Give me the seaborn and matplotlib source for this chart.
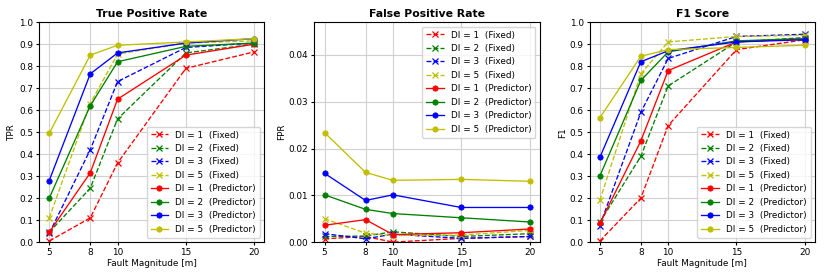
import numpy as np
import matplotlib
matplotlib.use("Agg")
import matplotlib.pyplot as plt
import seaborn as sns

# Data
magnitudes = [5, 8, 10, 15, 20]
dis = [1, 2, 3, 5]

tpr_fixed = {
    1: [0.005, 0.11, 0.36, 0.79, 0.865],
    2: [0.045, 0.245, 0.56, 0.86, 0.90],
    3: [0.04, 0.42, 0.73, 0.885, 0.905],
    5: [0.11, 0.63, 0.855, 0.905, 0.915],
}
tpr_pred = {
    1: [0.045, 0.315, 0.65, 0.85, 0.90],
    2: [0.20, 0.62, 0.82, 0.89, 0.905],
    3: [0.28, 0.765, 0.86, 0.905, 0.925],
    5: [0.495, 0.85, 0.895, 0.91, 0.925],
}
fpr_fixed = {
    1: [0.0007, 0.0012, 0.0000, 0.0008, 0.0012],
    2: [0.0012, 0.0013, 0.0022, 0.0012, 0.0018],
    3: [0.0018, 0.0007, 0.0017, 0.0008, 0.0012],
    5: [0.0050, 0.0019, 0.0014, 0.0015, 0.0025],
}
fpr_pred = {
    1: [0.0036, 0.0048, 0.0016, 0.0020, 0.0028],
    2: [0.0101, 0.0070, 0.0061, 0.0052, 0.0043],
    3: [0.0147, 0.0089, 0.0101, 0.0074, 0.0074],
    5: [0.0234, 0.0149, 0.0132, 0.0134, 0.0130],
}
f1_fixed = {
    1: [0.005, 0.20, 0.53, 0.875, 0.92],
    2: [0.09, 0.39, 0.71, 0.91, 0.93],
    3: [0.075, 0.59, 0.835, 0.935, 0.945],
    5: [0.19, 0.765, 0.91, 0.935, 0.94],
}
f1_pred = {
    1: [0.085, 0.46, 0.78, 0.91, 0.925],
    2: [0.30, 0.735, 0.865, 0.915, 0.925],
    3: [0.385, 0.82, 0.87, 0.91, 0.92],
    5: [0.565, 0.845, 0.875, 0.885, 0.895],
}

colors = {1: 'r', 2: 'g', 3: 'b', 5: 'y'}

panels = [
    ("True Positive Rate", "TPR", tpr_fixed, tpr_pred, (0, 1.0), "lower right"),
    ("False Positive Rate", "FPR", fpr_fixed, fpr_pred, (0, 0.047), "upper right"),
    ("F1 Score", "F1", f1_fixed, f1_pred, (0, 1.0), "lower right"),
]

fs = 6.4

fig, axes = plt.subplots(1, 3, figsize=(8.3, 2.77), dpi=100)
fig.subplots_adjust(left=0.047, right=0.982, bottom=0.126, top=0.92, wspace=0.221)

for ax, (title, ylabel, fixed, pred, ylim, loc) in zip(axes, panels):
    for di in dis:
        sns.lineplot(x=magnitudes, y=fixed[di], ax=ax, color=colors[di], marker='x',
                     linestyle='--', linewidth=0.95, markersize=3.8,
                     markeredgecolor=colors[di], markeredgewidth=0.9,
                     label=f"DI = {di}  (Fixed)")
    for di in dis:
        sns.lineplot(x=magnitudes, y=pred[di], ax=ax, color=colors[di], marker='o',
                     linestyle='-', linewidth=0.95, markersize=3.8,
                     markeredgecolor=colors[di], markeredgewidth=0.6,
                     label=f"DI = {di}  (Predictor)")
    ax.set_title(title, fontsize=7.8, fontweight='bold', pad=3.5)
    ax.set_xlabel("Fault Magnitude [m]", fontsize=fs, labelpad=1.5)
    ax.set_ylabel(ylabel, fontsize=fs, labelpad=2)
    ax.set_xticks(magnitudes)
    ax.set_ylim(*ylim)
    if ylabel != "FPR":
        ax.set_yticks(np.arange(0, 1.01, 0.1))
    ax.tick_params(labelsize=fs, length=2.2, pad=2)
    ax.grid(True, color='#d0d0d0', linewidth=0.8)
    ax.legend(loc=loc, fontsize=fs, handlelength=2.0, labelspacing=0.5,
              borderpad=0.45, framealpha=0.8)

fig.savefig("out.png", dpi=100)
